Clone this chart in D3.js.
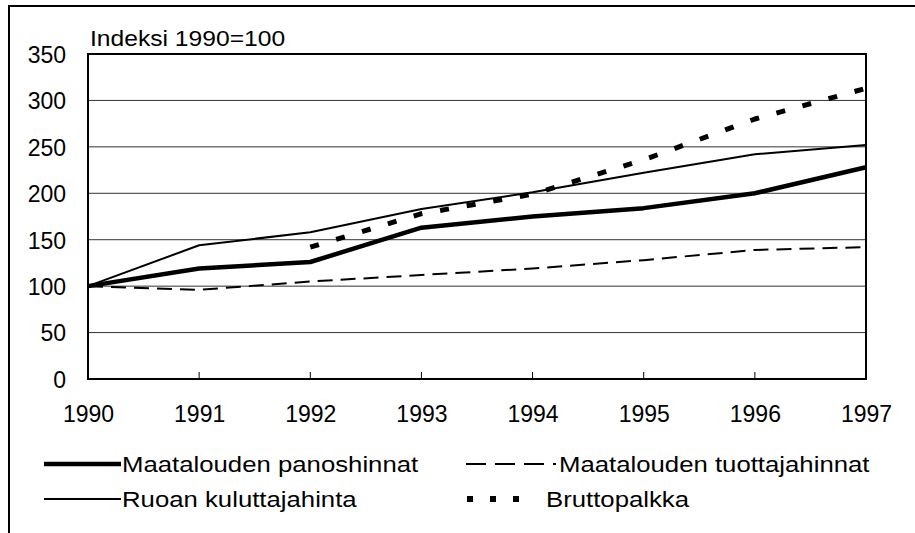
<!DOCTYPE html>
<html>
<head>
<meta charset="utf-8">
<script src="https://cdn.jsdelivr.net/npm/d3@7"></script>
<style>
  body { margin: 0; background: #fff; }
  text { font-family: Arial, "Liberation Sans", sans-serif; fill: #000; }
</style>
</head>
<body>
<svg id="chart"></svg>
<script>
// data
var years = [1990, 1991, 1992, 1993, 1994, 1995, 1996, 1997];
var panoshinnat = [100, 119, 126, 163, 175, 184, 200, 228];
var tuottajahinnat = [100, 96, 105, 112, 119, 128, 139, 142];
var kuluttajahinta = [100, 144, 158, 183, 201, 222, 242, 252];
var bruttopalkka = [null, null, 142, 178, 199, 236, 280, 313];
var yTicks = [0, 50, 100, 150, 200, 250, 300, 350];

var W = 915, H = 533;
var svg = d3.select("#chart").attr("width", W).attr("height", H);

// ulkokehys
svg.append("path")
    .attr("d", "M9," + H + " L9,6 L" + W + ",6")
    .attr("fill", "none").attr("stroke", "#000").attr("stroke-width", 2);

var pLeft = 88, pRight = 866, pTop = 54, pBottom = 379;

var x = d3.scaleLinear().domain([1990, 1997]).range([pLeft, pRight]);
var y = d3.scaleLinear().domain([0, 350]).range([pBottom, pTop]);

// ruudukko
svg.append("g").selectAll("line").data(yTicks).enter().append("line")
    .attr("x1", pLeft).attr("x2", pRight)
    .attr("y1", function (d) { return y(d); })
    .attr("y2", function (d) { return y(d); })
    .attr("stroke", "#333").attr("stroke-width", 1);

// y-akseli
var yAxis = svg.append("g").attr("transform", "translate(" + pLeft + ",1)")
    .call(d3.axisLeft(y).tickValues(yTicks).tickSize(0).tickPadding(22));
yAxis.select(".domain").remove();
yAxis.selectAll("text").style("font-size", "23px").style("font-family", "Arial, 'Liberation Sans', sans-serif");

// x-akseli
var xAxis = svg.append("g").attr("transform", "translate(0," + pBottom + ")")
    .call(d3.axisBottom(x).tickValues(years).tickFormat(d3.format("d")).tickSize(0).tickPadding(27));
xAxis.select(".domain").remove();
xAxis.selectAll("text").style("font-size", "23px").style("font-family", "Arial, 'Liberation Sans', sans-serif");

// tick marks inside
svg.append("g").selectAll("line").data(years.slice(1, 7)).enter().append("line")
    .attr("x1", function (d) { return x(d); }).attr("x2", function (d) { return x(d); })
    .attr("y1", pBottom).attr("y2", pBottom - 7)
    .attr("stroke", "#000").attr("stroke-width", 1);

// plot border
svg.append("rect")
    .attr("x", pLeft).attr("y", pTop)
    .attr("width", pRight - pLeft).attr("height", pBottom - pTop)
    .attr("fill", "none").attr("stroke", "#000").attr("stroke-width", 2);

svg.append("text")
    .attr("transform", "translate(90,46) scale(1.12,1)")
    .style("font-size", "22px").text("Indeksi 1990=100");

var series = [
    { name: "Maatalouden panoshinnat", values: panoshinnat, width: 4.5, dash: null },
    { name: "Maatalouden tuottajahinnat", values: tuottajahinnat, width: 2, dash: "15,8" },
    { name: "Ruoan kuluttajahinta", values: kuluttajahinta, width: 2, dash: null },
    { name: "Bruttopalkka", values: bruttopalkka, width: 5, dash: "9,18" }
];

var line = d3.line()
    .defined(function (d) { return d.v != null; })
    .x(function (d) { return x(d.year); })
    .y(function (d) { return y(d.v); });

var plot = svg.append("g");
plot.selectAll("path").data(series).enter().append("path")
    .attr("d", function (s) {
        return line(years.map(function (yr, i) { return { year: yr, v: s.values[i] }; }));
    })
    .attr("fill", "none").attr("stroke", "#000")
    .attr("stroke-width", function (s) { return s.width; })
    .attr("stroke-dasharray", function (s) { return s.dash; })
    .attr("stroke-linejoin", "round");

// selite
var legendPos = [
    { x1: 44, x2: 121, y: 464, tx: 122 },
    { x1: 466, x2: 556, y: 464, tx: 559 },
    { x1: 44, x2: 121, y: 499, tx: 122 },
    { x1: 467, x2: 520, y: 499, tx: 546 }
];
var lg = svg.append("g").selectAll("g").data(series).enter().append("g");
lg.append("line")
    .attr("x1", function (s, i) { return legendPos[i].x1; })
    .attr("x2", function (s, i) { return legendPos[i].x2; })
    .attr("y1", function (s, i) { return legendPos[i].y; })
    .attr("y2", function (s, i) { return legendPos[i].y; })
    .attr("stroke", "#000")
    .attr("stroke-width", function (s, i) { return i == 3 ? 6 : s.width; })
    .attr("stroke-dasharray", function (s, i) { return i == 3 ? "6,17" : (i == 1 ? "20,9" : null); });
lg.append("text")
    .attr("transform", function (s, i) {
        return "translate(" + legendPos[i].tx + "," + (legendPos[i].y + 8) + ") scale(1.17,1)";
    })
    .style("font-size", "22px")
    .text(function (s) { return s.name; });
</script>
</body>
</html>
